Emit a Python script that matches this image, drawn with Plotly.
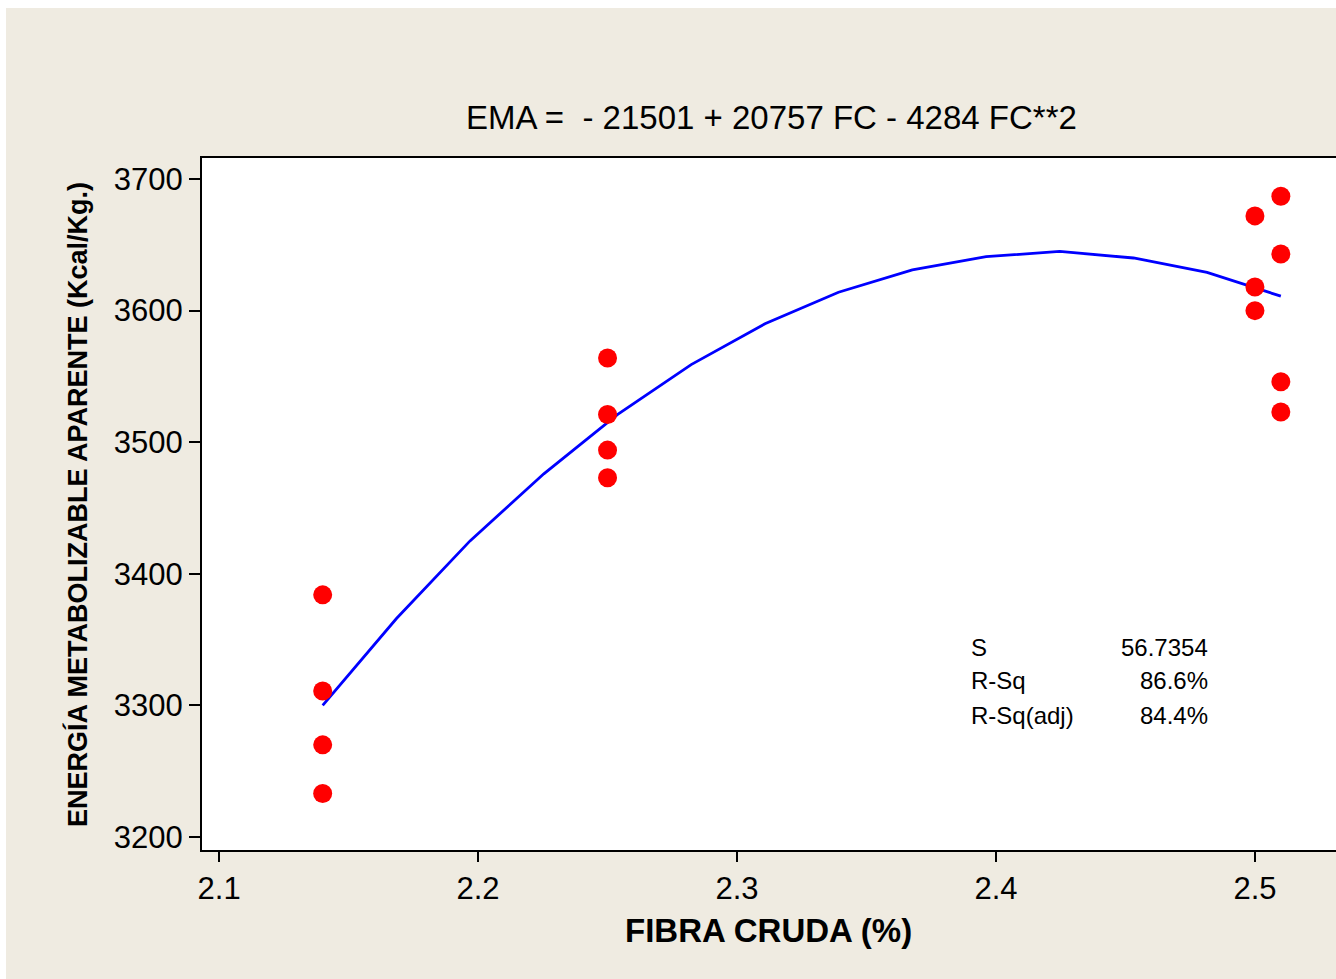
import plotly.graph_objects as go

# Observed data
fc_obs = [2.14, 2.14, 2.14, 2.14,
          2.25, 2.25, 2.25, 2.25,
          2.50, 2.50, 2.50,
          2.51, 2.51, 2.51, 2.51]
ema_obs = [3384, 3311, 3270, 3233,
           3564, 3521, 3494, 3473,
           3672, 3618, 3600,
           3687, 3643, 3546, 3523]

# Fitted curve vertices
fc_fit = [2.14, 2.1685, 2.1969, 2.2254, 2.2538, 2.2823, 2.3108, 2.3392,
          2.3677, 2.3962, 2.4246, 2.4531, 2.4815, 2.51]
ema_fit = [3300, 3366, 3425, 3476, 3521, 3559, 3590, 3614,
           3631, 3641, 3645, 3640, 3629, 3611]

x_ticks = [2.1, 2.2, 2.3, 2.4, 2.5]
x_ticklabels = ["2.1", "2.2", "2.3", "2.4", "2.5"]
y_ticks = [3200, 3300, 3400, 3500, 3600, 3700]
y_ticklabels = ["3200", "3300", "3400", "3500", "3600", "3700"]

title_text = "EMA =  - 21501 + 20757 FC - 4284 FC**2"
x_title = "FIBRA CRUDA (%)"
y_title = "ENERGÍA METABOLIZABLE APARENTE (Kcal/Kg.)"
stat_labels = ["S", "R-Sq", "R-Sq(adj)"]
stat_values = ["56.7354", "86.6%", "84.4%"]

W, H = 1336, 979
L, R, T, B = 202, 1336, 158, 850
PW, PH = R - L, B - T

def px(xp):
    return (xp - L) / PW

def py(yp):
    return (B - yp) / PH

BEIGE = "#EFEBE1"
FONT = "Liberation Sans, Arial, sans-serif"

fig = go.Figure()
fig.add_trace(go.Scatter(x=fc_fit, y=ema_fit, mode="lines",
                         line=dict(color="#0000FF", width=2.8),
                         showlegend=False, hoverinfo="skip"))
fig.add_trace(go.Scatter(x=fc_obs, y=ema_obs, mode="markers",
                         marker=dict(color="#FF0000", size=19, line=dict(width=0)),
                         showlegend=False))

annotations = [
    dict(text=title_text.replace("  ", "&nbsp; "), x=px(771), y=py(118), xref="paper", yref="paper",
         showarrow=False, xanchor="center", yanchor="middle",
         font=dict(family=FONT, size=33, color="black")),
    dict(text="<b>" + x_title + "</b>", x=px(768), y=py(930), xref="paper", yref="paper",
         showarrow=False, xanchor="center", yanchor="middle",
         font=dict(family=FONT, size=33, color="black")),
    dict(text="<b>" + y_title + "</b>", x=px(78), y=py(505), xref="paper", yref="paper",
         showarrow=False, xanchor="center", yanchor="middle", textangle=-90,
         font=dict(family=FONT, size=27, color="black")),
]
rows_y = [647, 680, 715]
for lab, val, yy in zip(stat_labels, stat_values, rows_y):
    annotations.append(dict(text=lab, x=px(969), y=py(yy), xref="paper", yref="paper",
                            showarrow=False, xanchor="left", yanchor="middle",
                            font=dict(family=FONT, size=24, color="black")))
    annotations.append(dict(text=val, x=px(1210), y=py(yy), xref="paper", yref="paper",
                            showarrow=False, xanchor="right", yanchor="middle",
                            font=dict(family=FONT, size=24, color="black")))

shapes = [
    dict(type="rect", xref="paper", yref="paper", x0=px(0), x1=px(6), y0=py(H + 5), y1=py(-5),
         fillcolor="white", line=dict(width=0), layer="below"),
    dict(type="rect", xref="paper", yref="paper", x0=px(0), x1=px(W + 5), y0=py(8), y1=py(-5),
         fillcolor="white", line=dict(width=0), layer="below"),
]

fig.update_layout(
    width=W, height=H,
    margin=dict(l=L, r=W - R, t=T, b=H - B, pad=0),
    paper_bgcolor=BEIGE, plot_bgcolor="white",
    annotations=annotations, shapes=shapes,
    font=dict(family=FONT, color="black"),
    xaxis=dict(range=[2.0934, 2.5313], tickvals=x_ticks, ticktext=x_ticklabels,
               showgrid=False, zeroline=False, showline=True, linecolor="black",
               linewidth=2, mirror=True, ticks="outside", ticklen=10, tickwidth=2,
               tickcolor="black", tickfont=dict(family=FONT, size=31, color="black")),
    yaxis=dict(range=[3190.1, 3716.0], tickvals=y_ticks, ticktext=y_ticklabels,
               showgrid=False, zeroline=False, showline=True, linecolor="black",
               linewidth=2, mirror=False, ticks="outside", ticklen=11, tickwidth=2,
               tickcolor="black", tickfont=dict(family=FONT, size=31, color="black")),
)

fig.write_html("out.html")
